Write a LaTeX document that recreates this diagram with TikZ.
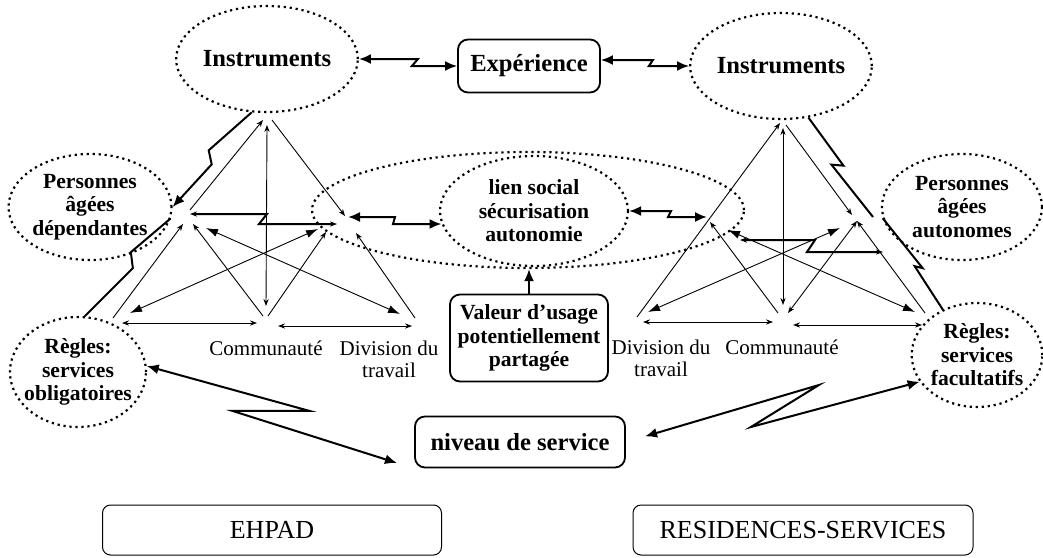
\documentclass[tikz,border=0pt]{standalone}
\usepackage{fontspec}
\setmainfont{Liberation Serif}
\usepackage{tikz}
\usetikzlibrary{calc, arrows, arrows.meta, shapes}
\tikzset{>=latex}
\tikzset{
  bulle/.style={ellipse, draw, line width=1.1pt, dash pattern=on 1.1pt off 1.9pt, inner sep=0pt, align=center, font=\bfseries\fontsize{10.8}{11.8}\selectfont},
  instr/.style={bulle, minimum width=79pt, minimum height=53pt, font=\bfseries\fontsize{12.3}{14}\selectfont},
  boite/.style={draw, line width=0.9pt, rounded corners=5pt, align=center, inner sep=0pt, font=\bfseries\fontsize{10.8}{11.8}\selectfont},
  cadre/.style={draw, line width=0.5pt, rounded corners=4pt, font=\fontsize{13}{15}\selectfont},
  etiq/.style={align=center, inner sep=0pt, font=\fontsize{10.5}{11}\selectfont},
  trait/.style={line width=0.45pt},
  gras/.style={line width=1pt},
  pointe/.style={-{Stealth[length=3.5pt,width=2.6pt]}},
  pointes/.style={{Stealth[length=3.5pt,width=2.6pt]}-{Stealth[length=3.5pt,width=2.6pt]}},
  grosse/.style={{Latex[length=6pt,width=4pt]}-{Latex[length=6pt,width=4pt]}},
  eclair/.style={gras, {Latex[length=6pt,width=5pt]}-{Latex[length=6pt,width=5pt]}},
  fleche/.style={-{Latex[length=6pt,width=5pt]}}
}

\begin{document}
\begin{tikzpicture}[x=0.5pt, y=-0.5pt]
\useasboundingbox (0,0) rectangle (1043,557);

\node[instr] (instL) at (267,59) {Instruments};
\node[boite, minimum width=71pt, minimum height=26.5pt, font=\bfseries\fontsize{12.3}{14}\selectfont] (exper) at (529,66) {Expérience};
\node[instr] (instR) at (781,66) {Instruments};

\node[bulle, minimum width=80pt, minimum height=53pt] (persL) at (90,207) {Personnes\\âgées\\dépendantes};
\node[bulle, minimum width=68pt, minimum height=55pt, inner xsep=-4pt] (reglL) at (78,372) {Règles:\\services\\obligatoires};
\node[bulle, minimum width=216pt, minimum height=58pt] (objet) at (528,210) {};
\node[bulle, minimum width=94pt, minimum height=55pt] (lien) at (534,211) {lien social\\sécurisation\\autonomie};
\node[bulle, minimum width=80pt, minimum height=53pt] (persR) at (962,207) {Personnes\\âgées\\autonomes};
\node[bulle, minimum width=65pt, minimum height=52pt] (reglR) at (977,355) {Règles:\\services\\facultatifs};

\node[boite, minimum width=79pt, minimum height=43.5pt] (valeur) at (529,338) {Valeur d’usage\\potentiellement\\partagée};
\node[boite, minimum width=105pt, minimum height=25.5pt, font=\bfseries\fontsize{12.3}{14}\selectfont] (niveau) at (520,442) {niveau de service};
\node[cadre, minimum width=169.5pt, minimum height=25pt] (ehpad) at (272,530) {EHPAD};
\node[cadre, minimum width=170pt, minimum height=25pt] (resid) at (803,530) {RESIDENCES-SERVICES};

\node[etiq] (comL) at (266,348) {Communauté};
\node[etiq] (divL) at (389,359) {Division du\\travail};
\node[etiq] (divR) at (661,358) {Division du\\travail};
\node[etiq] (comR) at (782,347) {Communauté};

% triangle EHPAD
\coordinate (La) at (267,118);
\coordinate (Ls) at (190,214);
\coordinate (Lo) at (343,218);
\coordinate (Lr) at (120,318);
\coordinate (Lc) at (266,318);
\coordinate (Ld) at (413,318);
\draw[trait, pointe] ($(Ls)+(0,-4)$) -- ($(La)+(-4,2)$);
\draw[trait, pointe] ($(La)+(5,2)$) -- ($(Lo)+(2,-2)$);
\draw[trait, pointes] ($(La)+(0,7)$) -- ($(Lc)+(0,-12)$);
\draw[trait, pointe] ($(Lr)+(-7,0)$) -- ($(Ls)+(-7,10)$);
\draw[trait, pointe] ($(Lc)+(-3,-2)$) -- ($(Ls)+(3,10)$);
\draw[trait, pointe] ($(Lc)+(2,-2)$) -- ($(Lo)+(-17,14)$);
\draw[trait, pointe] ($(Ld)+(2,0)$) -- ($(Lo)+(13,15)$);
\draw[trait, grosse] ($(Lr)+(10,-5)$) -- ($(Lo)+(-25,11)$);
\draw[trait, grosse] ($(Ls)+(16,14)$) -- ($(Ld)+(-13,-4)$);
\draw[trait, pointes] ($(Lr)+(2,5)$) -- ($(Lc)+(-9,5)$);
\draw[trait, pointes] ($(Lc)+(12,8)$) -- ($(Ld)+(-1,8)$);
\draw[gras, pointes] (Ls) -- ++(77,0) -- ++(-8,10) -- ++(78,0);

% triangle residences
\coordinate (Ra) at (783,121);
\coordinate (Rs) at (857,221);
\coordinate (Ro) at (707,217);
\coordinate (Rr) at (927,315);
\coordinate (Rc) at (786,315);
\coordinate (Rd) at (637,317);
\draw[trait, pointe] (Rd) -- ($(Ra)+(-3,2)$);
\draw[trait, pointe] ($(Ra)+(3,4)$) -- ($(Rs)+(-5,-6)$);
\draw[trait, pointes] ($(Ra)+(0,7)$) -- ($(Rc)+(-3,-10)$);
\draw[trait, pointes] ($(Rc)+(2,-2)$) -- (Rs);
\draw[trait, pointe] ($(Rr)+(-2,-2)$) -- (Rs);
\draw[trait, pointe] ($(Rc)+(-8,-2)$) -- ($(Ro)+(3,5)$);
\draw[trait, grosse] ($(Ro)+(21,13)$) -- ($(Rr)+(-12,-3)$);
\draw[trait, grosse] ($(Rd)+(11,-5)$) -- ($(Rs)+(-17,7)$);
\draw[trait, pointes] ($(Rd)+(6,5)$) -- ($(Rc)+(-13,7)$);
\draw[trait, pointes] ($(Rc)+(7,10)$) -- ($(Rr)+(-5,10)$);
\draw[gras, pointes] ($(Ro)+(33,23)$) -- ++(75,0) -- ++(-8,12) -- ++(76,0);

\draw[eclair] (instL.east) -- ++(59,0) -- ++(-6,7) -- (exper.west);
\draw[eclair] ($(exper.east)+(0,-6)$) -- ++(52,0) -- ++(-4,6) -- (instR.west);
\draw[eclair] ($(Lo)+(5,-1)$) -- ++(47,0) -- ++(-2,7) -- (lien.188);
\draw[eclair] (lien.east) -- ++(42,0) -- ++(-3,6) -- (Ro);
\draw[gras, fleche] (valeur.north) -- (valeur.north |- objet.south);

\coordinate (Ri) at (873,217);
\draw[gras, fleche] (instL.254) -- ++(-43,38) -- ++(3,14) -- (persL.east);
\draw[gras] (reglL.83) -- ++(48,-48) -- ++(-2,-16) -- (persL.-8);
\draw[gras] (instR.-62) -- ++(35,48) -- ++(-12,-1) -- (Ri);
\draw[gras] (persR.188) -- ++(40,50) -- ++(-8,-2) -- (reglR.127);

\draw[eclair, shorten >=9pt] (reglL.5) -- ++(163,45) -- ++(-77,0) -- (niveau.south west);
\draw[eclair, shorten <=10pt] (niveau.east) -- ++(193,-57) -- ++(-68,42) -- (reglR.205);
\end{tikzpicture}
\end{document}
